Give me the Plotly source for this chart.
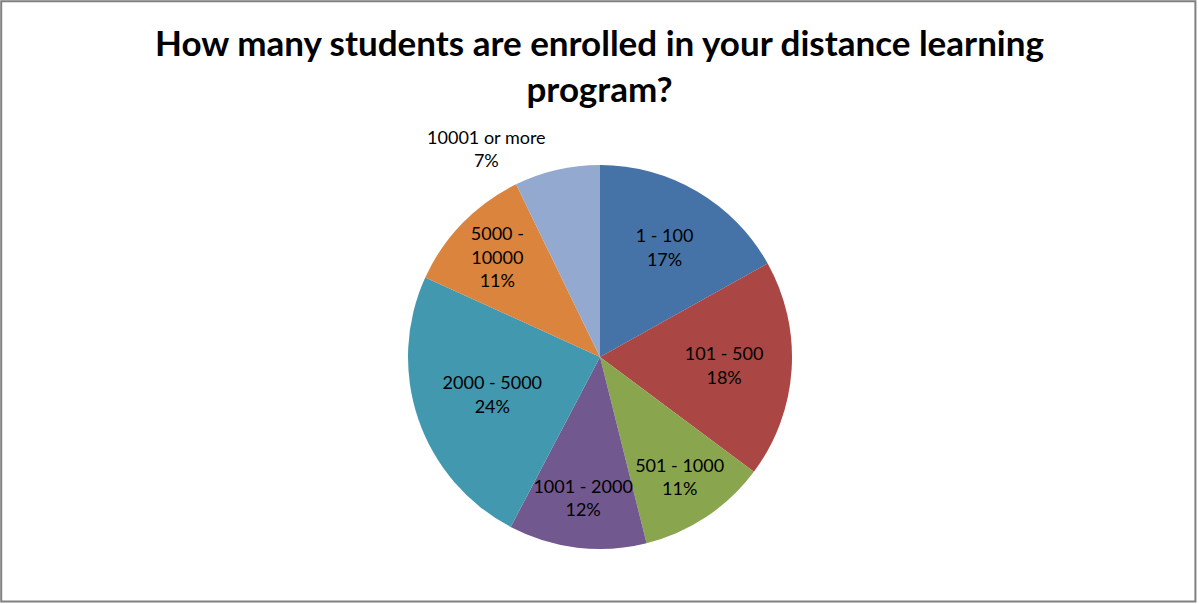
import plotly.graph_objects as go

categories = ["1 - 100", "101 - 500", "501 - 1000", "1001 - 2000", "2000 - 5000", "5000 - 10000", "10001 or more"]
values = [16.9, 18.3, 10.9, 11.6, 24.1, 11.0, 7.2]
display_labels = ["1 - 100", "101 - 500", "501 - 1000", "1001 - 2000", "2000 - 5000", "5000 -<br>10000", "10001 or more"]
colors = ["#4572A7", "#AA4643", "#89A54E", "#71588F", "#4198AF", "#DB843D", "#93A9CF"]
positions = ["inside"] * 6 + ["outside"]

W, H = 1199, 604
cx, cy, r = 600, 357, 192

fig = go.Figure(go.Pie(
    labels=categories,
    values=values,
    text=display_labels,
    texttemplate="%{text}<br>%{percent:.0%}",
    textposition=positions,
    insidetextorientation="horizontal",
    sort=False,
    direction="clockwise",
    rotation=0,
    marker=dict(colors=colors, line=dict(width=0)),
    textfont=dict(family="Lato", size=18, color="black"),
    showlegend=False,
    hoverinfo="label+percent",
    domain=dict(x=[(cx - r) / W, (cx + r) / W], y=[(H - cy - r) / H, (H - cy + r) / H]),
))

fig.update_layout(
    width=W, height=H,
    margin=dict(l=0, r=0, t=0, b=0),
    paper_bgcolor="white",
    title=dict(
        text="<b>How many students are enrolled in your distance learning<br>program?</b>",
        x=0.5, xanchor="center", y=0.907, yanchor="top",
        font=dict(family="Lato", size=35, color="black"),
    ),
    uniformtext=dict(minsize=18, mode="show"),
    shapes=[dict(type="rect", xref="paper", yref="paper", x0=0.001, y0=0.004, x1=0.997, y1=0.998,
                 line=dict(color="#808080", width=2))],
)

fig.write_html("out.html", config=dict(displayModeBar=False),
               post_script="document.body.style.margin='0';document.body.style.overflow='hidden';")
